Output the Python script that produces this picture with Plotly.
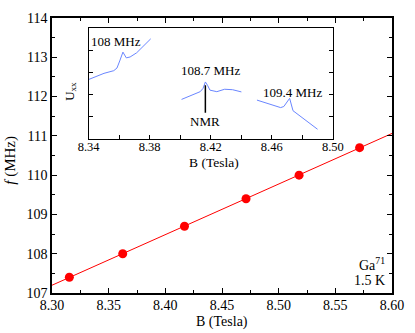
import numpy as np
import plotly.graph_objects as go

# Main data: NMR resonance field vs frequency
B_points = [8.3153, 8.3624, 8.4169, 8.4712, 8.5180, 8.5714]
f_points = [107.4, 108.0, 108.7, 109.4, 110.0, 110.7]
fit_range = [8.30, 8.60]

# Inset curves (Uxx, arbitrary units)
c1_B = [8.3400, 8.3437, 8.3501, 8.3565, 8.3586, 8.3604, 8.3625, 8.3647, 8.3672, 8.3715, 8.3758, 8.3807]
c1_U = [2.69, 2.79, 2.97, 3.09, 3.21, 3.53, 3.93, 3.67, 3.71, 3.90, 4.19, 4.53]
c2_B = [8.4009, 8.4079, 8.4131, 8.4150, 8.4165, 8.4179, 8.4195, 8.4240, 8.4291, 8.4343, 8.4401]
c2_U = [1.79, 1.99, 2.14, 2.29, 2.58, 2.43, 2.21, 2.14, 2.25, 2.23, 2.13]
c3_B = [8.4503, 8.4572, 8.4658, 8.4679, 8.4717, 8.4739, 8.4786, 8.4839, 8.4900]
c3_U = [1.76, 1.62, 1.42, 1.47, 1.84, 1.28, 1.03, 0.74, 0.44]
nmr_B = 8.4165
nmr_U = [1.19, 2.43]
labels = ["108 MHz", "108.7 MHz", "109.4 MHz"]

coef = np.polyfit(B_points, f_points, 1)
fit_y = [float(np.polyval(coef, x)) for x in fit_range]

FONT = "'Liberation Serif', 'Times New Roman', serif"
RED = "#ff0000"
BLUE = "#6a86ff"

fig = go.Figure()
fig.add_trace(go.Scatter(x=fit_range, y=fit_y, mode="lines",
                         line=dict(color=RED, width=1), xaxis="x", yaxis="y", showlegend=False))
fig.add_trace(go.Scatter(x=B_points, y=f_points, mode="markers",
                         marker=dict(color=RED, size=9), xaxis="x", yaxis="y", showlegend=False))
for bx, uy in [(c1_B, c1_U), (c2_B, c2_U), (c3_B, c3_U)]:
    fig.add_trace(go.Scatter(x=bx, y=uy, mode="lines", line=dict(color=BLUE, width=1),
                             xaxis="x2", yaxis="y2", showlegend=False))
fig.add_trace(go.Scatter(x=[nmr_B, nmr_B], y=nmr_U, mode="lines", line=dict(color="black", width=1.5),
                         xaxis="x2", yaxis="y2", showlegend=False))

axis_common = dict(showline=True, linecolor="black", showgrid=False, zeroline=False,
                   ticks="inside", tickcolor="black", tickfont=dict(family=FONT, size=14, color="black"))

fig.update_layout(
    width=415, height=333,
    margin=dict(l=52, r=16.3, t=11, b=40),
    paper_bgcolor="white", plot_bgcolor="white",
    font=dict(family=FONT, color="black"),
    xaxis=dict(**axis_common, range=[8.30, 8.60], tickvals=[8.30, 8.35, 8.40, 8.45, 8.50, 8.55, 8.60],
               ticktext=["8.30", "8.35", "8.40", "8.45", "8.50", "8.55", "8.60"],
               linewidth=1.5, ticklen=5, tickwidth=1, mirror="ticks", ticklabelstandoff=-2,
               minor=dict(ticks="inside", dtick=0.025, tick0=8.30, ticklen=3, tickcolor="black"),
               domain=[0, 1], anchor="y"),
    yaxis=dict(**axis_common, range=[107, 114], dtick=1, linewidth=1.5, ticklen=5, tickwidth=1,
               mirror="ticks",
               minor=dict(ticks="inside", dtick=0.5, ticklen=3, tickcolor="black"),
               domain=[0, 1], anchor="x"),
    xaxis2=dict(showline=True, linecolor="black", linewidth=1.2, showgrid=False, zeroline=False,
                ticks="inside", tickcolor="black", ticklen=4, ticklabelstandoff=-4,
                tickfont=dict(family=FONT, size=12.5, color="black"),
                range=[8.34, 8.50], tickvals=[8.34, 8.38, 8.42, 8.46, 8.50],
                ticktext=["8.34", "8.38", "8.42", "8.46", "8.50"],
                minor=dict(ticks="inside", dtick=0.02, tick0=8.34, ticklen=4, tickcolor="black"),
                mirror=True, domain=[0.1076, 0.826], anchor="y2"),
    yaxis2=dict(showline=True, linecolor="black", linewidth=1.2, showgrid=False, zeroline=False,
                ticks="inside", tickcolor="black", ticklen=4, showticklabels=False,
                range=[0, 5], dtick=1, mirror="ticks", domain=[0.560, 0.962], anchor="x2"),
)

ann = []
ann.append(dict(text="B (Tesla)", xref="paper", yref="paper", x=0.5, y=-0.106,
                xanchor="center", yanchor="middle", showarrow=False, font=dict(size=14)))
ann.append(dict(text="<i>f</i> (MHz)", xref="paper", yref="paper", x=-0.121, y=0.484,
                xanchor="center", yanchor="middle", showarrow=False, textangle=-90, font=dict(size=15)))
ann.append(dict(text="U<sub>xx</sub>", xref="paper", yref="paper", x=0.052, y=0.734,
                xanchor="center", yanchor="middle", showarrow=False, textangle=-90, font=dict(size=13)))
ann.append(dict(text="B (Tesla)", xref="paper", yref="paper", x=0.475, y=0.474,
                xanchor="center", yanchor="middle", showarrow=False, font=dict(size=13.5)))
ann.append(dict(text=labels[0], xref="x2", yref="y2", x=8.3405, y=4.41,
                xanchor="left", yanchor="middle", showarrow=False, font=dict(size=13)))
ann.append(dict(text=labels[1], xref="x2", yref="y2", x=8.4197, y=3.09,
                xanchor="center", yanchor="middle", showarrow=False, font=dict(size=13)))
ann.append(dict(text=labels[2], xref="x2", yref="y2", x=8.4733, y=2.10,
                xanchor="center", yanchor="middle", showarrow=False, font=dict(size=13)))
ann.append(dict(text="NMR", xref="x2", yref="y2", x=8.4163, y=0.79,
                xanchor="center", yanchor="middle", showarrow=False, font=dict(size=13)))
ann.append(dict(text="Ga<sup>71</sup>", xref="paper", yref="paper", x=0.985, y=(293 - 263) / 282,
                xanchor="right", yanchor="middle", showarrow=False, font=dict(size=14)))
ann.append(dict(text="1.5 K", xref="paper", yref="paper", x=0.985, y=(293 - 280.5) / 282,
                xanchor="right", yanchor="middle", showarrow=False, font=dict(size=14)))
fig.update_layout(annotations=ann)

# Remove the browser's default 8px body margin so the figure sits at the page origin
fig.write_html("out.html", config={"displayModeBar": False},
               post_script="document.body.style.margin='0px';")
